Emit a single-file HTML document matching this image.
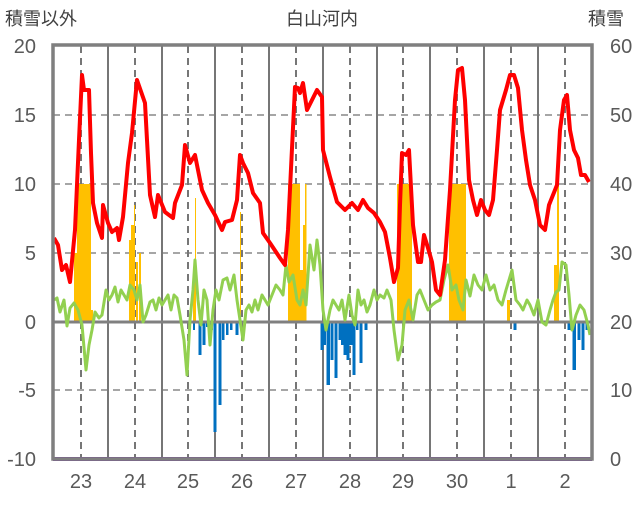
<!DOCTYPE html><html><head><meta charset="utf-8"><style>body{margin:0;background:#fff}svg text{font-family:"Liberation Sans","Noto Sans CJK JP",sans-serif;fill:#595959}</style></head><body>
<svg width="636" height="501" xmlns="http://www.w3.org/2000/svg">
<g font-size="18"><text x="5" y="25" style="fill:#404040">積雪以外</text><text x="322" y="25" text-anchor="middle" style="fill:#404040">白山河内</text><text x="588" y="25" style="fill:#404040">積雪</text></g>
<g stroke="#a6a6a6" stroke-width="2" stroke-dasharray="7,5">
<line x1="53" y1="115" x2="592" y2="115"/><line x1="53" y1="184" x2="592" y2="184"/><line x1="53" y1="253" x2="592" y2="253"/><line x1="53" y1="390" x2="592" y2="390"/></g>
<g stroke="#767676" stroke-width="2" stroke-dasharray="7,5">
<line x1="81" y1="46" x2="81" y2="459"/><line x1="135" y1="46" x2="135" y2="459"/><line x1="188" y1="46" x2="188" y2="459"/><line x1="242" y1="46" x2="242" y2="459"/><line x1="296" y1="46" x2="296" y2="459"/><line x1="350" y1="46" x2="350" y2="459"/><line x1="403" y1="46" x2="403" y2="459"/><line x1="457" y1="46" x2="457" y2="459"/><line x1="511" y1="46" x2="511" y2="459"/><line x1="565" y1="46" x2="565" y2="459"/></g>
<g stroke="#767676" stroke-width="2">
<line x1="108" y1="46" x2="108" y2="459"/><line x1="162" y1="46" x2="162" y2="459"/><line x1="215" y1="46" x2="215" y2="459"/><line x1="269" y1="46" x2="269" y2="459"/><line x1="323" y1="46" x2="323" y2="459"/><line x1="377" y1="46" x2="377" y2="459"/><line x1="430" y1="46" x2="430" y2="459"/><line x1="484" y1="46" x2="484" y2="459"/><line x1="538" y1="46" x2="538" y2="459"/></g>
<g fill="#ffc000">
<rect x="74" y="253" width="3" height="69"/><rect x="77" y="184" width="14" height="138"/><rect x="91" y="310" width="2" height="12"/>
<rect x="129" y="240" width="2" height="82"/><rect x="131" y="225" width="3" height="97"/><rect x="134" y="205" width="1" height="117"/><rect x="136" y="262" width="2" height="60"/><rect x="139" y="253" width="2" height="69"/>
<rect x="193" y="270" width="2" height="52"/><rect x="195" y="198" width="1" height="124"/><rect x="240" y="212" width="1" height="110"/>
<rect x="288" y="184" width="12" height="138"/><rect x="300" y="270" width="3" height="52"/><rect x="303" y="225" width="2" height="97"/><rect x="305" y="184" width="1.5" height="138"/>
<rect x="397" y="184" width="15" height="138"/><rect x="449" y="184" width="17" height="138"/><rect x="507" y="300" width="3" height="22"/>
<rect x="554" y="265" width="3" height="57"/><rect x="557" y="184" width="2" height="138"/></g>
<g fill="#0070c0">
<rect x="193" y="322" width="2" height="8"/><rect x="198.5" y="322" width="3" height="33"/><rect x="202.5" y="322" width="3" height="23"/><rect x="206" y="322" width="2.5" height="5"/><rect x="210" y="322" width="3" height="8"/><rect x="213.5" y="322" width="3" height="110"/><rect x="218.5" y="322" width="3" height="83"/><rect x="222" y="322" width="2.5" height="18"/><rect x="226" y="322" width="2.5" height="13"/><rect x="230" y="322" width="2.5" height="8"/><rect x="235.5" y="322" width="3" height="13"/>
<rect x="320.5" y="322" width="3" height="28"/><rect x="323" y="322" width="3" height="23"/><rect x="326.5" y="322" width="3.5" height="63"/><rect x="330.5" y="322" width="3" height="38"/><rect x="334.5" y="322" width="3" height="56"/><rect x="338.5" y="322" width="3" height="18"/><rect x="341" y="322" width="2.5" height="23"/><rect x="343.5" y="322" width="3" height="33"/><rect x="346.5" y="322" width="3" height="38"/><rect x="349.5" y="322" width="3" height="23"/><rect x="352.5" y="322" width="3" height="53"/><rect x="356" y="322" width="2.5" height="8"/><rect x="359.5" y="322" width="3" height="41"/><rect x="364.5" y="322" width="3" height="8"/>
<rect x="513.5" y="322" width="3" height="8"/><rect x="567.5" y="322" width="3" height="8"/><rect x="572.5" y="322" width="3.5" height="48"/><rect x="577.5" y="322" width="3" height="18"/><rect x="581.5" y="322" width="3" height="28"/><rect x="585.5" y="322" width="3" height="8"/></g>
<line x1="53" y1="322" x2="592" y2="322" stroke="#808080" stroke-width="3"/>
<polyline fill="none" stroke="#92d050" stroke-width="3" stroke-linejoin="round" points="54,300 57,298 60,312 64,300 67,326 70,308 74,303 78,310 82,325 86,370 89,345 92,330 95,312 99,318 102,315 106,290 109,300 112,295 115,287 118,302 121,290 124,295 127,300 130,285 134,290 137,300 140,285 143,322 146,315 150,302 153,300 156,310 159,298 162,305 165,300 168,295 171,310 174,295 177,298 180,315 184,340 187,375 190,320 193,290 195,260 198,300 201,325 204,290 207,300 210,345 213,310 216,290 219,300 223,280 227,278 230,290 234,275 237,300 240,320 243,340 246,310 249,305 252,312 255,300 258,310 262,295 265,300 268,305 272,295 276,285 280,290 283,295 286,265 289,282 293,275 297,300 300,305 303,290 306,305 310,245 314,270 317,240 320,265 323,310 326,330 330,310 333,300 336,305 339,310 342,300 345,320 349,295 352,315 355,325 358,290 361,305 364,300 367,312 370,305 374,290 377,300 380,295 384,298 387,290 391,300 394,330 398,360 402,345 405,310 409,300 413,320 417,295 420,290 424,300 428,310 432,305 436,302 440,300 444,280 448,265 452,290 456,285 459,300 463,310 466,280 470,296 474,275 478,285 482,290 486,275 490,290 494,285 498,300 502,305 506,290 509,280 512,270 516,300 520,305 523,310 527,300 530,305 534,315 538,300 542,322 546,325 550,310 553,300 556,292 559,290 562,262 566,265 569,295 572,330 576,315 580,305 584,310 588,325 590,335"/>
<polyline fill="none" stroke="#ff0000" stroke-width="4" stroke-linejoin="round" points="54,238 58,245 62,270 66,265 70,282 75,230 79,140 82,75 84,90 89,90 91,153 93,203 97,223 102,238 103,205 108,223 112,232 117,228 119,240 123,217 128,163 132,133 137,80 145,103 147,140 150,195 155,217 158,195 165,212 173,218 175,203 182,185 185,145 190,163 195,155 202,190 208,203 215,215 222,230 225,222 232,220 237,200 240,155 243,163 248,173 253,193 260,203 263,233 270,243 280,258 285,265 288,230 295,87 298,88 300,93 303,83 307,110 312,100 317,90 322,97 323,150 330,177 337,202 345,210 352,203 358,210 363,200 368,208 374,213 380,222 385,232 390,258 394,282 398,268 400,205 402,153 406,155 409,150 413,225 418,262 421,262 424,235 428,248 432,262 436,290 440,295 445,260 450,190 455,100 458,70 462,68 465,100 469,180 473,200 477,215 481,200 485,210 489,215 493,200 497,150 500,110 503,100 506,90 510,75 514,75 518,88 522,130 526,160 530,185 535,200 540,225 545,230 549,205 553,195 557,185 560,130 564,100 567,95 570,130 574,150 578,158 581,175 585,175 589,182"/>
<line x1="53" y1="459" x2="592" y2="459" stroke="#7030a0" stroke-width="4"/>
<rect x="53" y="45" width="539" height="414" fill="none" stroke="#7f7f7f" stroke-width="3.5"/>
<g font-size="20" text-anchor="end"><text x="36" y="53">20</text><text x="36" y="122">15</text><text x="36" y="191">10</text><text x="36" y="260">5</text><text x="36" y="329">0</text><text x="36" y="397">-5</text><text x="36" y="466">-10</text></g>
<g font-size="20"><text x="610" y="53">60</text><text x="610" y="122">50</text><text x="610" y="191">40</text><text x="610" y="260">30</text><text x="610" y="329">20</text><text x="610" y="397">10</text><text x="610" y="466">0</text></g>
<g font-size="20" text-anchor="middle"><text x="81" y="488">23</text><text x="135" y="488">24</text><text x="188" y="488">25</text><text x="242" y="488">26</text><text x="296" y="488">27</text><text x="350" y="488">28</text><text x="403" y="488">29</text><text x="457" y="488">30</text><text x="511" y="488">1</text><text x="565" y="488">2</text></g>
</svg></body></html>
